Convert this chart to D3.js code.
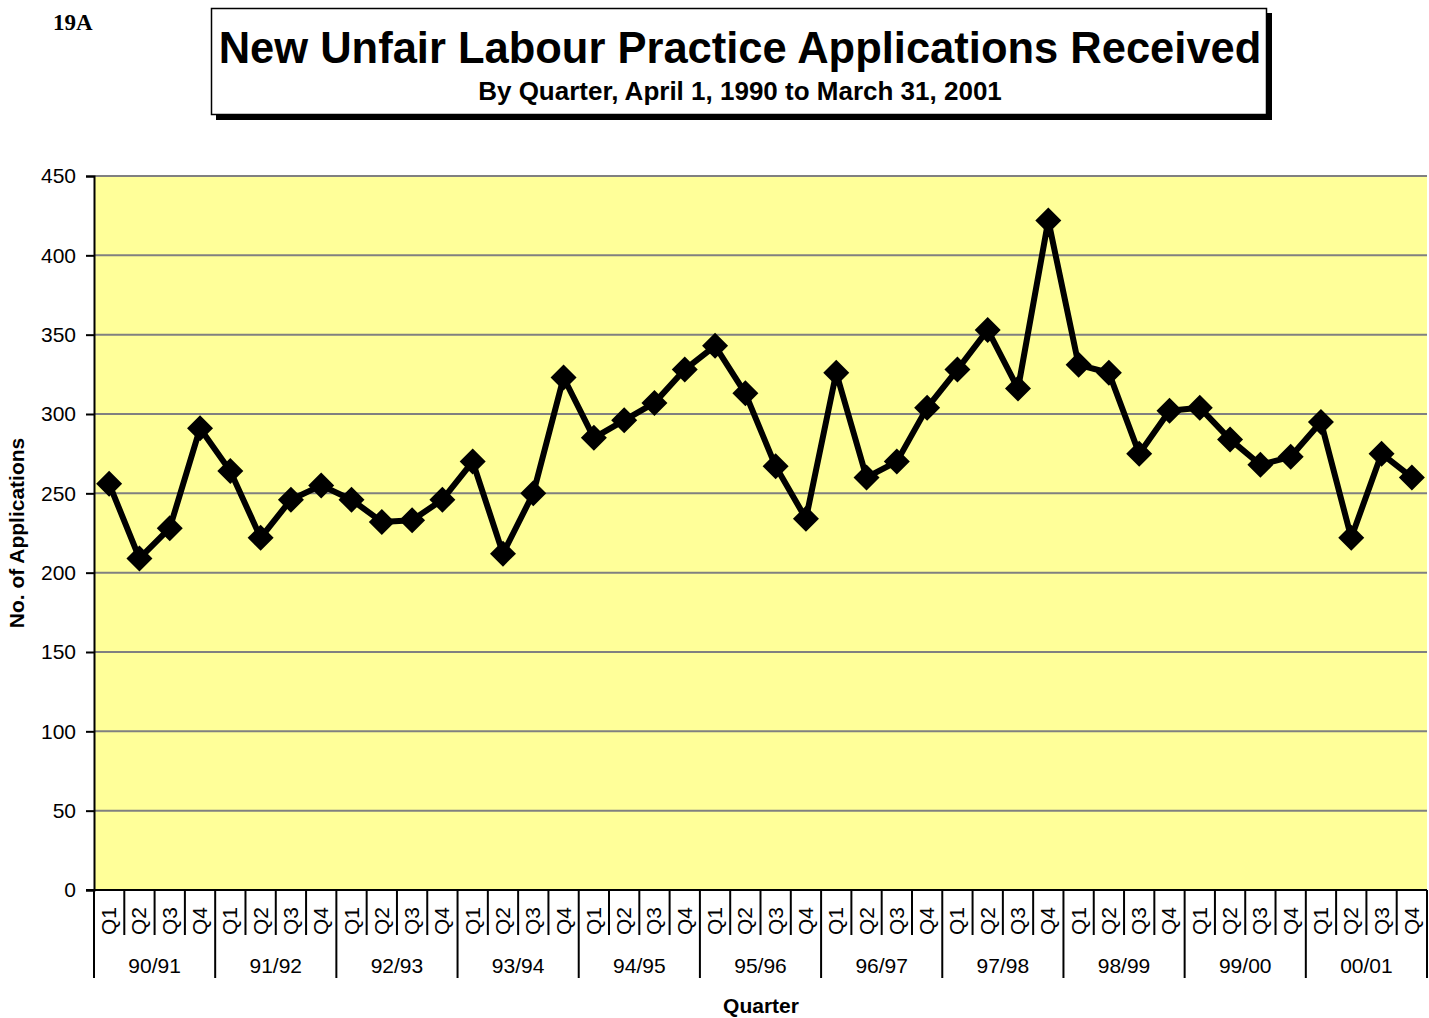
<!DOCTYPE html>
<html>
<head>
<meta charset="utf-8">
<script src="https://cdn.jsdelivr.net/npm/d3@7"></script>
<style>
  body { margin: 0; background: #fff; }
  text { font-family: Arial, "Liberation Sans", sans-serif; }
</style>
</head>
<body>
<svg width="1429" height="1018"></svg>
<script>
var years = ['90/91', '91/92', '92/93', '93/94', '94/95', '95/96', '96/97', '97/98', '98/99', '99/00', '00/01']
var quarters = ['Q1', 'Q2', 'Q3', 'Q4']
var applications = [
    256, 209, 228, 291,
    264, 222, 246, 255,
    246, 232, 233, 246,
    270, 212, 250, 323,
    285, 296, 307, 328,
    343, 313, 267, 234,
    326, 260, 270, 304,
    328, 353, 316, 422,
    331, 326, 275, 302,
    304, 284, 268, 273,
    295, 222, 275, 260
]
var yTicks = [0, 50, 100, 150, 200, 250, 300, 350, 400, 450]

var dataset = []
years.forEach((y, i) => {
    quarters.forEach((q, j) => {
        dataset.push({ key: y + ' ' + q, year: y, quarter: q, value: applications[i * 4 + j] })
    })
})

var svg = d3.select('svg')
var plotLeft = 94, plotRight = 1427, plotTop = 176, plotBottom = 890

var xScale = d3.scaleBand()
    .domain(dataset.map(d => d.key))
    .range([plotLeft, plotRight])
var yScale = d3.scaleLinear()
    .domain([0, 450])
    .range([plotBottom, plotTop])

// page label
svg.append('text')
    .attr('x', 53).attr('y', 30)
    .style('font-family', '"Liberation Serif", "Times New Roman", serif')
    .style('font-weight', 'bold')
    .style('font-size', '23px')
    .text('19A')

// title box with shadow
svg.append('rect')
    .attr('x', 216).attr('y', 13).attr('width', 1056).attr('height', 107)
    .style('fill', '#000')
svg.append('rect')
    .attr('x', 211.5).attr('y', 8.5).attr('width', 1055).attr('height', 106)
    .style('fill', '#fff').style('stroke', '#000').style('stroke-width', 1.5)
svg.append('text')
    .attr('x', 740).attr('y', 63)
    .attr('text-anchor', 'middle')
    .style('font-weight', 'bold')
    .style('font-size', '43.5px')
    .text('New Unfair Labour Practice Applications Received')
svg.append('text')
    .attr('x', 740).attr('y', 100)
    .attr('text-anchor', 'middle')
    .style('font-weight', 'bold')
    .style('font-size', '26px')
    .text('By Quarter, April 1, 1990 to March 31, 2001')

// plot area
svg.append('rect')
    .attr('x', plotLeft).attr('y', plotTop)
    .attr('width', plotRight - plotLeft).attr('height', plotBottom - plotTop)
    .style('fill', '#FFFF99')

// gridlines
svg.append('g').selectAll('line')
    .data(yTicks.filter(d => d > 0))
    .enter()
    .append('line')
    .attr('x1', plotLeft).attr('x2', plotRight)
    .attr('y1', d => yScale(d)).attr('y2', d => yScale(d))
    .style('stroke', '#808080')
    .style('stroke-width', 2)

// y axis
var yAxis = svg.append('g')
    .attr('transform', 'translate(' + plotLeft + ',0)')
    .call(d3.axisLeft(yScale).tickValues(yTicks).tickSize(8).tickPadding(10))
yAxis.select('.domain').style('stroke-width', 2)
yAxis.selectAll('.tick line').style('stroke-width', 2)
yAxis.selectAll('text')
    .style('font-size', '21px')
    .style('font-family', 'Arial, "Liberation Sans", sans-serif')

// x axis baseline
svg.append('line')
    .attr('x1', plotLeft - 8).attr('x2', plotRight)
    .attr('y1', plotBottom).attr('y2', plotBottom)
    .style('stroke', '#000').style('stroke-width', 2)

// quarter separators and labels
var step = xScale.step()
svg.append('g').selectAll('line')
    .data(dataset)
    .enter()
    .append('line')
    .attr('x1', d => xScale(d.key)).attr('x2', d => xScale(d.key))
    .attr('y1', plotBottom)
    .attr('y2', d => d.quarter == 'Q1' ? 978 : 935)
    .style('stroke', '#000').style('stroke-width', 2)
svg.append('line')
    .attr('x1', plotRight).attr('x2', plotRight)
    .attr('y1', plotBottom).attr('y2', 978)
    .style('stroke', '#000').style('stroke-width', 2)

svg.append('g').selectAll('text')
    .data(dataset)
    .enter()
    .append('text')
    .attr('text-anchor', 'start')
    .attr('transform', d => 'translate(' + (xScale(d.key) + step / 2 + 7) + ',935)rotate(-90)')
    .style('font-size', '21px')
    .text(d => d.quarter)

svg.append('g').selectAll('text')
    .data(years)
    .enter()
    .append('text')
    .attr('x', d => xScale(d + ' Q1') + step * 2)
    .attr('y', 973)
    .attr('text-anchor', 'middle')
    .style('font-size', '21px')
    .text(d => d)

// axis titles
svg.append('text')
    .attr('x', 761).attr('y', 1013)
    .attr('text-anchor', 'middle')
    .style('font-weight', 'bold')
    .style('font-size', '21px')
    .text('Quarter')
svg.append('text')
    .attr('text-anchor', 'middle')
    .attr('transform', 'translate(24,533)rotate(-90)')
    .style('font-weight', 'bold')
    .style('font-size', '21px')
    .text('No. of Applications')

// line
var line = d3.line()
    .x(d => xScale(d.key) + step / 2)
    .y(d => yScale(d.value))
svg.append('path')
    .datum(dataset)
    .attr('d', line)
    .style('fill', 'none')
    .style('stroke', '#000')
    .style('stroke-width', 6)
    .style('stroke-linejoin', 'round')

// diamond markers
svg.append('g').selectAll('path')
    .data(dataset)
    .enter()
    .append('path')
    .attr('d', 'M0,-13L13,0L0,13L-13,0Z')
    .attr('transform', d => 'translate(' + (xScale(d.key) + step / 2) + ',' + yScale(d.value) + ')')
    .style('fill', '#000')
</script>
</body>
</html>
